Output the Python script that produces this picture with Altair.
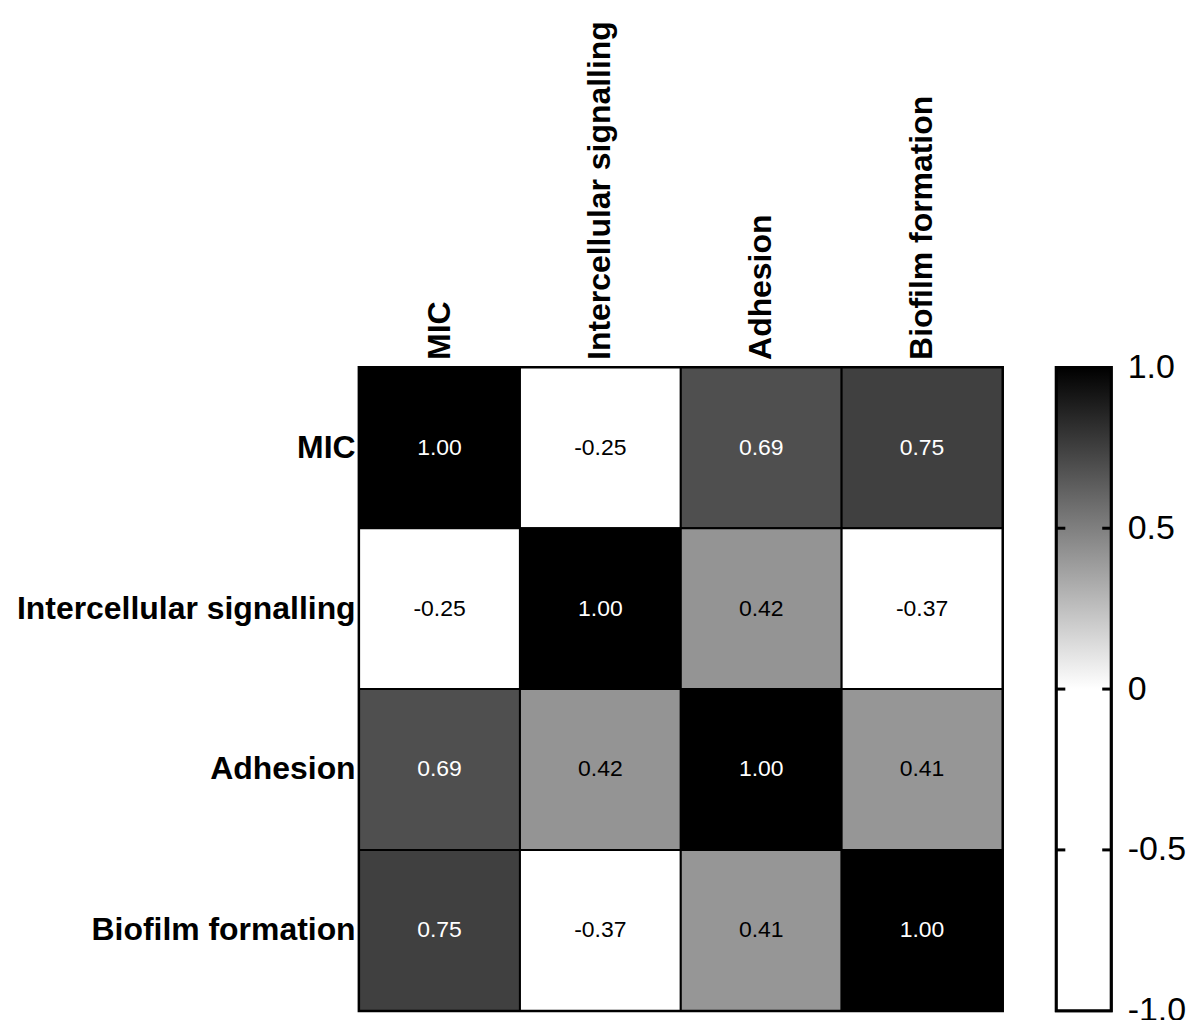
import altair as alt
import pandas as pd

variables = ["MIC", "Intercellular signalling", "Adhesion", "Biofilm formation"]
row_mic = [1.00, -0.25, 0.69, 0.75]
row_signal = [-0.25, 1.00, 0.42, -0.37]
row_adhesion = [0.69, 0.42, 1.00, 0.41]
row_biofilm = [0.75, -0.37, 0.41, 1.00]
colorbar_labels = [-1.0, -0.5, 0.0, 0.5, 1.0]
inner_ticks = [-0.5, 0.0, 0.5]

rows = [row_mic, row_signal, row_adhesion, row_biofilm]
records = []
for rname, vals in zip(variables, rows):
    for cname, v in zip(variables, vals):
        records.append({"row": rname, "col": cname, "r": v, "label": f"{v:.2f}"})
df = pd.DataFrame(records)

FONT = "Liberation Sans"
LABEL_SIZE = 32

color_scale = alt.Scale(domain=[-1, 0, 1], range=["#ffffff", "#ffffff", "#000000"], interpolate="rgb")

base = alt.Chart(df).encode(
    x=alt.X("col:N", sort=variables, title=None,
            axis=alt.Axis(orient="top", labelAngle=270, labelFont=FONT, labelFontSize=LABEL_SIZE,
                          labelFontWeight="bold", labelColor="black", ticks=False, domain=False,
                          labelPadding=8, labelLimit=0)),
    y=alt.Y("row:N", sort=variables, title=None,
            axis=alt.Axis(orient="left", labelFont=FONT, labelFontSize=LABEL_SIZE,
                          labelFontWeight="bold", labelColor="black", ticks=False, domain=False,
                          labelPadding=4, labelLimit=0)),
)
cells = base.mark_rect(stroke="black", strokeWidth=2).encode(
    color=alt.Color("r:Q", scale=color_scale, legend=None)
)
texts = base.mark_text(font=FONT, fontSize=23).encode(
    text="label:N",
    color=alt.condition("datum.r > 0.5", alt.value("white"), alt.value("black")),
)
heat = alt.layer(cells, texts).properties(width=645, height=645)

cb_df = pd.DataFrame({"lo": [-1.0], "hi": [1.0]})
tick_df = pd.DataFrame({"t": inner_ticks})
grad = alt.Gradient(
    gradient="linear",
    stops=[alt.GradientStop(color="#ffffff", offset=0),
           alt.GradientStop(color="#ffffff", offset=0.5),
           alt.GradientStop(color="#000000", offset=1)],
    x1=0, x2=0, y1=1, y2=0,
)
yscale = alt.Scale(domain=[-1, 1], nice=False, zero=False)
bar = alt.Chart(cb_df).mark_rect(fill=grad, stroke="black", strokeWidth=3).encode(
    x=alt.value(0), x2=alt.value(55),
    y=alt.Y("lo:Q", scale=yscale, title=None,
            axis=alt.Axis(orient="right", values=colorbar_labels, labelFont=FONT, labelFontSize=34,
                          labelColor="black", ticks=False, domain=False, grid=False,
                          labelFlush=False, labelPadding=16, labelBaseline="middle",
                          labelExpr="datum.value == 0 ? '0' : (datum.value < 0 ? '-' : '') + format(abs(datum.value), '.1f')")),
    y2="hi:Q",
)
ticks_left = alt.Chart(tick_df).mark_rule(color="black", strokeWidth=3).encode(
    y=alt.Y("t:Q", scale=yscale), x=alt.value(0), x2=alt.value(9)
)
ticks_right = alt.Chart(tick_df).mark_rule(color="black", strokeWidth=3).encode(
    y=alt.Y("t:Q", scale=yscale), x=alt.value(46), x2=alt.value(55)
)
colorbar = alt.layer(bar, ticks_left, ticks_right).properties(width=55, height=645)

chart = (
    alt.hconcat(heat, colorbar, spacing=54, bounds="flush")
    .properties(padding={"left": 6, "top": 9, "right": 0, "bottom": 0}, background="white")
    .configure_view(stroke="black", strokeWidth=3)
)

chart.save("out.html", embed_options={"renderer": "svg", "actions": False})
